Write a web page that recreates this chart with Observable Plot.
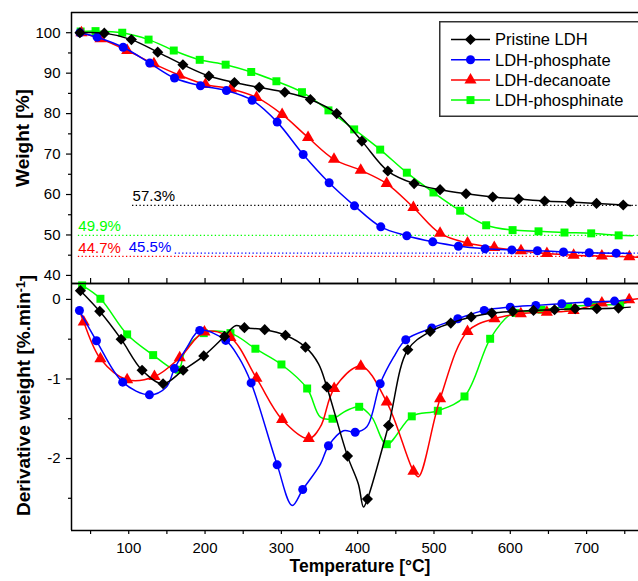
<!DOCTYPE html>
<html>
<head>
<meta charset="utf-8">
<script src="https://cdn.jsdelivr.net/npm/d3@7"></script>
<script src="https://cdn.jsdelivr.net/npm/@observablehq/plot@0.6"></script>
<style>
  body { margin: 0; background: white; }
  #chart { position: relative; width: 638px; height: 581px; overflow: hidden; background: white; font-family: "Liberation Sans", Arial, sans-serif; }
  #chart svg { display: block; }
  #legend { position: absolute; left: 439px; top: 21px; }
</style>
</head>
<body>
<div id="chart"></div>
<script>
// ---------- data ----------
const seriesNames = ["Pristine LDH", "LDH-phosphate", "LDH-decanoate", "LDH-phosphinate"];
const seriesColors = ["#000000", "#0000ff", "#ff0000", "#00ff00"];
const seriesSymbols = ["diamond2", "circle", "triangle", "square"];

// TGA (weight %) ; m = 1 where a marker is drawn
const tgaT_pristine = [36, 68, 103.5, 138, 171, 205, 238.5, 271, 304.5, 338, 372.5, 405.5, 439.5, 474, 508, 542, 577, 611, 645, 679, 713, 748, 758];
const tgaW_pristine = [100, 99.9, 98.3, 95.2, 92.1, 89.3, 87.7, 86.5, 85.3, 83.5, 80, 73.2, 65.8, 62.7, 61.2, 60.2, 59.4, 58.9, 58.4, 58.1, 57.8, 57.4, 57.3];
const tgaM_pristine = [1,1,1,1,1,1,1,1,1,1,1,1,1,1,1,1,1,1,1,1,1,1,0];

const tgaT_phosphate = [36, 58.6, 92.7, 127.5, 160, 194, 228, 261.7, 294.5, 328.6, 362.6, 395.8, 430.3, 464.4, 498.4, 532, 567, 602, 635.6, 669.7, 703.4, 738.8, 758];
const tgaW_phosphate = [100, 98.9, 96.4, 92.5, 88.8, 86.9, 85.7, 83.3, 77.9, 69.9, 62.9, 57.2, 52.0, 49.8, 48.3, 47.2, 46.6, 46.3, 46.1, 45.8, 45.6, 45.5, 45.4];
const tgaM_phosphate = [1,1,1,1,1,1,1,1,1,1,1,1,1,1,1,1,1,1,1,1,1,1,0];

const tgaT_decanoate = [38, 63, 98, 133, 166.5, 200.5, 234, 267.5, 301, 335, 369, 404, 438, 473, 508, 544, 579, 614, 648, 683, 720, 756, 768];
const tgaW_decanoate = [100, 98.5, 95.6, 92.3, 89.5, 87.2, 86.1, 84, 79.8, 74.1, 68.7, 66.0, 62.7, 56.8, 50.4, 48.0, 46.9, 46.1, 45.4, 45.0, 44.8, 44.6, 44.5];
const tgaM_decanoate = [1,1,1,1,1,1,1,1,1,1,1,1,1,1,1,1,1,1,1,1,1,1,0];

const tgaT_phosphinate = [37, 56.5, 91.5, 126, 159, 193, 227, 260.5, 293.5, 327, 361.7, 395.4, 429.5, 464.4, 499.3, 534.3, 568.4, 603, 637, 671, 706, 742, 760];
const tgaW_phosphinate = [100.3, 100.4, 100, 98.3, 95.6, 93.3, 92.1, 90.3, 88.0, 85.3, 80.8, 76.1, 71.1, 65.4, 60.5, 56.0, 52.4, 51.2, 50.9, 50.6, 50.4, 49.9, 49.8];
const tgaM_phosphinate = [1,1,1,1,1,1,1,1,1,1,1,1,1,1,1,1,1,1,1,1,1,1,0];

// DTG (derivative weight, %/min)
const dtgT_pristine = [36.7, 62, 90, 117.5, 145, 171.3, 198.3, 225.4, 240, 251.6, 278.2, 305.4, 331.6, 348.7, 359.6, 386.7, 400.9, 407.6, 412.8, 440.4, 465.7, 495, 522, 548.8, 575.8, 603.3, 630.4, 658, 685, 713.4, 741.8, 757];
const dtgD_pristine = [0.11, -0.15, -0.50, -0.89, -1.06, -0.89, -0.71, -0.465, -0.33, -0.355, -0.38, -0.45, -0.60, -0.81, -1.10, -1.97, -2.32, -2.61, -2.51, -1.585, -0.633, -0.403, -0.298, -0.222, -0.172, -0.151, -0.138, -0.13, -0.117, -0.117, -0.109, -0.097];
const dtgM_pristine = [1,1,1,1,1,1,1,1,0,1,1,1,1,0,1,1,0,0,1,1,1,1,1,1,1,1,1,1,1,1,1,0];

const dtgT_phosphate = [35.4, 57.7, 92.1, 127.1, 149.4, 159.9, 176.5, 193, 227.1, 244.2, 260.4, 294.5, 314.2, 328, 351.2, 361.7, 381.4, 396.7, 412, 429.5, 446.9, 463, 497.1, 531.2, 565.8, 599.9, 633.4, 667.5, 701.6, 736.6, 757];
const dtgD_phosphate = [-0.14, -0.52, -1.04, -1.20, -1.10, -0.87, -0.6, -0.39, -0.515, -0.73, -1.05, -2.08, -2.59, -2.39, -2.07, -1.84, -1.65, -1.67, -1.6, -1.06, -0.73, -0.507, -0.36, -0.243, -0.138, -0.097, -0.075, -0.054, -0.034, -0.021, -0.004];
const dtgM_phosphate = [1,1,1,1,0,1,0,1,1,0,1,1,0,1,0,1,0,1,0,1,0,1,1,1,1,1,1,1,1,1,0];

const dtgT_decanoate = [37.6, 41, 62.9, 97.9, 133.7, 166.8, 199.2, 233.3, 267.4, 301, 335.9, 351.2, 369.2, 404.1, 438.1, 473.1, 479.7, 508, 543.9, 579.3, 613.8, 647.9, 682.9, 720, 755.8, 768];
const dtgD_decanoate = [-0.20, -0.285, -0.746, -1.01, -0.97, -0.734, -0.41, -0.48, -0.99, -1.51, -1.75, -1.6, -1.12, -0.84, -1.29, -2.16, -2.23, -1.25, -0.403, -0.243, -0.18, -0.16, -0.138, -0.046, -0.004, 0.01];
const dtgM_decanoate = [0,1,1,1,1,1,1,1,1,1,1,0,1,1,1,1,0,1,1,1,1,1,1,1,1,0];

const dtgT_phosphinate = [38.9, 62.9, 97.9, 132, 156.9, 165.5, 174.3, 198.3, 233.3, 266, 300.1, 333.8, 351.2, 367, 385, 402, 418.5, 438.1, 470.9, 505, 540, 573.6, 599.9, 607, 641, 676, 710, 744, 759];
const dtgD_phosphinate = [0.176, 0.008, -0.44, -0.70, -0.87, -0.884, -0.64, -0.424, -0.424, -0.62, -0.818, -1.12, -1.48, -1.5, -1.40, -1.35, -1.48, -1.82, -1.47, -1.40, -1.22, -0.495, -0.19, -0.17, -0.13, -0.09, -0.07, -0.06, -0.013];
const dtgM_phosphinate = [1,1,1,1,0,1,0,1,1,1,1,1,0,1,0,1,0,1,1,1,1,1,0,1,1,1,1,1,0];

// residual weights
const residualValues = [57.3, 49.9, 45.5, 44.7];
const residualLabels = ["57.3%", "49.9%", "45.5%", "44.7%"];
const residualColors = ["#000000", "#00ff00", "#0000ff", "#ff0000"];

// ticks
const xMajorTicks = [100, 200, 300, 400, 500, 600, 700];
const xMinorTicks = [50, 150, 250, 350, 450, 550, 650, 750];
const wMajorTicks = [40, 50, 60, 70, 80, 90, 100];
const wMinorTicks = [45, 55, 65, 75, 85, 95];
const dMajorTicks = [-2, -1, 0];
const dMinorTicks = [-2.5, -1.5, -0.5];

const xTitle = "Temperature [°C]";
const wTitle = "Weight [%]";
const dTitle = "Derivative weight [%.min-1]";

// ---------- layout/config ----------
const xDomain = [25, 768];
const wDomain = [38, 105];
const dDomain = [-2.905, 0.2];
const FONT = "'Liberation Sans', Arial, sans-serif";

const tgaSets = [
  [tgaT_pristine, tgaW_pristine, tgaM_pristine],
  [tgaT_phosphate, tgaW_phosphate, tgaM_phosphate],
  [tgaT_decanoate, tgaW_decanoate, tgaM_decanoate],
  [tgaT_phosphinate, tgaW_phosphinate, tgaM_phosphinate]
];
const dtgSets = [
  [dtgT_pristine, dtgD_pristine, dtgM_pristine],
  [dtgT_phosphate, dtgD_phosphate, dtgM_phosphate],
  [dtgT_decanoate, dtgD_decanoate, dtgM_decanoate],
  [dtgT_phosphinate, dtgD_phosphinate, dtgM_phosphinate]
];
function toRows([T, V, M]) { return T.map((t, i) => ({t, v: V[i], m: M[i]})); }

function seriesMarks(sets) {
  const marks = [];
  const order = [3, 2, 1, 0]; // black drawn last (on top)
  for (const k of order) {
    const rows = toRows(sets[k]);
    marks.push(Plot.line(rows, {x: "t", y: "v", stroke: seriesColors[k], strokeWidth: 1.5, curve: "catmull-rom"}));
    marks.push(Plot.dot(rows.filter(d => d.m), {x: "t", y: "v", symbol: seriesSymbols[k], fill: seriesColors[k], stroke: "none", r: k === 0 ? 5 : 4.5}));
  }
  return marks;
}

// residual label placement (layout)
const residualStartT = [105, 34, 161, 34];
const residualLabelT = [105, 34, 100, 34];
const residualLabelDy = [-9, -9, -6, -8];

const residualRows = residualValues.map((v, i) => ({v, t1: residualStartT[i], t2: xDomain[1], lt: residualLabelT[i], label: residualLabels[i], color: residualColors[i], dy: residualLabelDy[i]}));

const topPlot = Plot.plot({
  width: 638, height: 283,
  marginLeft: 71, marginRight: 0, marginTop: 12, marginBottom: 0,
  x: {domain: xDomain, axis: null},
  y: {domain: wDomain, axis: null},
  style: {fontFamily: FONT, fontSize: "15px", color: "black", background: "transparent", overflow: "visible"},
  marks: [
    Plot.axisY(wMajorTicks, {tickSize: 5, tickPadding: 6, fontSize: 15, strokeWidth: 1.2, label: null}),
    Plot.axisY(wMinorTicks, {tickSize: 3, tickFormat: () => "", strokeWidth: 1.2, label: null}),
    Plot.tickX(xMajorTicks.concat(xMinorTicks), {x: d => d, insetTop: 266, strokeWidth: 1.2}),
    ...residualRows.map(r => Plot.ruleY([r], {y: "v", x1: "t1", x2: "t2", stroke: r.color, strokeWidth: 1.2, strokeDasharray: "1.3,2.4"})),
    ...residualRows.map(r => Plot.text([r], {x: "lt", y: "v", text: "label", fill: r.color, textAnchor: "start", fontSize: 15, dy: r.dy})),
    ...seriesMarks(tgaSets),
    Plot.ruleX([xDomain[0]], {stroke: "black", strokeWidth: 1.5}),
    Plot.ruleY([wDomain[0]], {stroke: "black", strokeWidth: 1.5}),
    Plot.ruleY([wDomain[1]], {stroke: "black", strokeWidth: 1.5}),
    Plot.text([wTitle], {frameAnchor: "left", rotate: -90, dx: -49, dy: -10, fontSize: 19, fontWeight: "bold", textAnchor: "middle"})
  ]
});

const bottomPlot = Plot.plot({
  width: 638, height: 298,
  marginLeft: 71, marginRight: 0, marginTop: 0, marginBottom: 51,
  x: {domain: xDomain, axis: null},
  y: {domain: dDomain, axis: null},
  style: {fontFamily: FONT, fontSize: "15px", color: "black", background: "transparent", overflow: "visible"},
  marks: [
    Plot.axisY(dMajorTicks, {tickSize: 5, tickPadding: 6, fontSize: 15, strokeWidth: 1.2, tickFormat: d => String(d), label: null}),
    Plot.axisY(dMinorTicks, {tickSize: 3, tickFormat: () => "", strokeWidth: 1.2, label: null}),
    Plot.axisX(xMajorTicks, {tickSize: 4, tickPadding: 8, fontSize: 15, strokeWidth: 1.2, tickFormat: d => String(d), label: null}),
    Plot.axisX(xMinorTicks, {tickSize: 4, tickFormat: () => "", strokeWidth: 1.2, label: null}),
    ...seriesMarks(dtgSets),
    Plot.ruleX([xDomain[0]], {stroke: "black", strokeWidth: 1.5}),
    Plot.ruleY([dDomain[0]], {stroke: "black", strokeWidth: 1.5}),
    Plot.ruleY([dDomain[1]], {stroke: "black", strokeWidth: 1.5}),
    Plot.text([dTitle], {frameAnchor: "left", rotate: -90, dx: -47.5, dy: -11.5, fontSize: 19, fontWeight: "bold", textAnchor: "middle"}),
    Plot.text([xTitle], {frameAnchor: "bottom", dx: 5, dy: 41, fontSize: 17.5, fontWeight: "bold", textAnchor: "middle"})
  ]
});

// superscript "-1" in derivative title
d3.select(bottomPlot).selectAll("text").filter(function () { return this.textContent === dTitle; }).each(function () {
  const t = d3.select(this);
  t.text(null);
  t.append("tspan").text("Derivative weight [%.min");
  t.append("tspan").attr("dy", "-0.45em").attr("font-size", "0.65em").text("-1");
  t.append("tspan").attr("dy", "0.45em").text("]");
});

const chart = document.getElementById("chart");
chart.appendChild(topPlot);
chart.appendChild(bottomPlot);

// ---------- legend ----------
const lw = 230, lh = 96;
const legend = d3.create("svg").attr("id", "legend").attr("width", lw).attr("height", lh)
  .style("font-family", "Liberation Sans, Arial, sans-serif");
legend.append("rect").attr("x", 0.75).attr("y", 0.75).attr("width", lw).attr("height", lh - 1.5)
  .attr("fill", "white").attr("stroke", "#333").attr("stroke-width", 1.5);
const symMap = {diamond2: d3.symbolDiamond2, circle: d3.symbolCircle, triangle: d3.symbolTriangle, square: d3.symbolSquare};
seriesNames.forEach((name, i) => {
  const cy = 18.5 + i * 20.2;
  const g = legend.append("g");
  g.append("line").attr("x1", 12).attr("x2", 51).attr("y1", cy).attr("y2", cy).attr("stroke", seriesColors[i]).attr("stroke-width", 1.5);
  const rr = i === 0 ? 5 : 4.5;
  g.append("path").attr("transform", `translate(31.5,${cy})`).attr("d", d3.symbol(symMap[seriesSymbols[i]], Math.PI * rr * rr)()).attr("fill", seriesColors[i]);
  g.append("text").attr("x", 56).attr("y", cy).attr("dy", "0.36em").attr("font-size", 16.5).attr("fill", "black").text(name);
});
chart.appendChild(legend.node());
</script>
</body>
</html>
